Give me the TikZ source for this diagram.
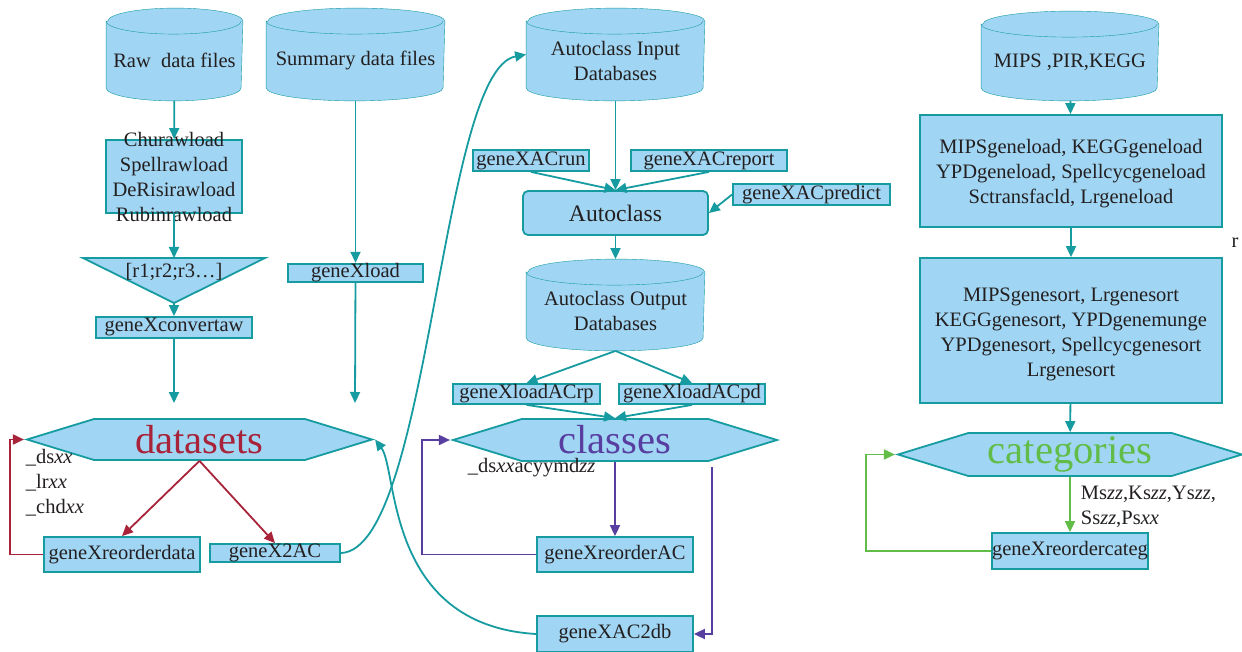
\documentclass[tikz,border=0pt]{standalone}
\usepackage{fontspec}
\setmainfont{Liberation Serif}
\usetikzlibrary{arrows.meta,positioning,backgrounds}
\usetikzlibrary{shapes.geometric,shapes.symbols}

\definecolor{dbfill}{RGB}{160,214,243}
\definecolor{dbline}{RGB}{22,155,160}
\definecolor{dsred}{RGB}{168,35,58}
\definecolor{clspurple}{RGB}{88,62,160}
\definecolor{catgreen}{RGB}{98,188,72}
\definecolor{txt}{RGB}{35,31,32}

% cylinder outline round a named node: #1 node, #2 half width
\newcommand\dbcase[2]{%
	\path[draw=dbline,fill=dbfill] ([yshift=-13pt]#1.north west) -- ([yshift=13pt]#1.south west)
	arc[start angle=180,end angle=360,x radius=#2pt,y radius=13pt] -- ([yshift=-13pt]#1.north east)
	arc[start angle=0,end angle=180,x radius=#2pt,y radius=13pt] -- cycle;
	\draw[dbline] ([yshift=-13pt]#1.north west) arc[start angle=180,end angle=360,x radius=#2pt,y radius=13pt];
}

\begin{document}
\begin{tikzpicture}
	[x=1pt,y=-1pt,line width=1.8pt,text=txt,
	font=\fontsize{20.5}{25}\selectfont,
	db node/.style={shape=rectangle,inner sep=0pt},
	db text/.style={yshift=-6pt,align=center,inner sep=0pt},
	proc node/.style={shape=rectangle,draw=dbline,fill=dbfill,inner sep=0pt},
	set node/.style={shape=signal,signal to=west and east,signal pointer angle=34,draw=dbline,fill=dbfill,inner sep=0pt,font=\fontsize{40.6}{44}\selectfont},
	flow/.style={draw=dbline,-{Triangle[length=11pt,width=10pt]}},
	ds flow/.style={flow,draw=dsred},
	cls flow/.style={flow,draw=clspurple},
	cat flow/.style={flow,draw=catgreen}]
	\useasboundingbox (0,0) rectangle (1242,652);
	
	% left column
	\node [db node,minimum width=135pt,minimum height=91pt,label={[db text]center:Raw\ \ data files}] (rawdb) at (174.5,54.5) {};
	\node [db node,minimum width=177pt,minimum height=91pt,label={[db text]center:Summary data files}] (sumdb) at (355.5,54.5) {};
	\node [proc node,minimum width=136pt,minimum height=73pt,label={[align=center]center:Churawload\\Spellrawload\\DeRisirawload\\Rubinrawload}] (rawload) at (174,176.5) {};
	\draw [draw=dbline,fill=dbfill] (83,258) -- (265,258) -- (174,303) -- cycle;
	\coordinate (tri top) at (174,258);
	\coordinate (tri tip) at (174,303);
	\node [inner sep=0pt] (tri) at (174,272) {[r1;r2;r3…]};
	\node [proc node,minimum width=156pt,minimum height=21pt] (convert) at (174,327.5) {geneXconvertaw};
	\node [proc node,minimum width=135pt,minimum height=18pt] (xload) at (355.5,273) {geneXload};
	\coordinate (convert end) at (174,403);
	\coordinate (xload end) at (355,403);
	
	\node [set node,minimum width=345pt,minimum height=41pt,text=dsred] (datasets) at (199.5,439.5) {datasets};
	\node [align=left,anchor=west,inner sep=0pt] (dslabel) at (25,483) {\_ds\textit{xx}\\\_lr\textit{xx}\\\_chd\textit{xx}};
	\node [proc node,minimum width=156pt,minimum height=35pt] (reorderdata) at (122,554.5) {geneXreorderdata};
	\node [proc node,minimum width=130pt,minimum height=18pt] (x2ac) at (275,553) {geneX2AC};
	
	% middle column
	\node [db node,minimum width=177pt,minimum height=91pt,label={[db text]center:Autoclass Input\\Databases}] (acin) at (615.5,54.5) {};
	\node [proc node,minimum width=116pt,minimum height=21pt] (acrun) at (531,160.5) {geneXACrun};
	\node [proc node,minimum width=156pt,minimum height=21pt] (acreport) at (709,160.5) {geneXACreport};
	\node [proc node,minimum width=157pt,minimum height=21pt] (acpredict) at (811.5,194.5) {geneXACpredict};
	\node [proc node,rounded corners=5pt,minimum width=185pt,minimum height=44pt,font=\fontsize{23.6}{28}\selectfont] (autoclass) at (615.5,213) {Autoclass};
	\node [db node,minimum width=177pt,minimum height=90pt,label={[db text]center:Autoclass Output\\Databases}] (acout) at (615.5,305) {};
	\node [proc node,minimum width=147pt,minimum height=20pt] (loadrp) at (526.5,394) {geneXloadACrp};
	\node [proc node,minimum width=146pt,minimum height=20pt] (loadpd) at (692,394) {geneXloadACpd};
	\node [set node,minimum width=324pt,minimum height=42pt,text=clspurple] (classes) at (615,440) {classes};
	\node [anchor=west,inner sep=0pt] (clslabel) at (467,468) {\_ds\textit{xx}acyymd\textit{zz}};
	\node [proc node,minimum width=156pt,minimum height=35pt] (reorderAC) at (615,554.5) {geneXreorderAC};
	\node [proc node,minimum width=156pt,minimum height=36pt] (ac2db) at (615,634) {geneXAC2db};
	\coordinate (cls out) at (712,467);
	
	% right column
	\node [db node,minimum width=176pt,minimum height=88pt,label={[db text]center:MIPS ,PIR,KEGG}] (mipsdb) at (1070,56) {};
	\node [proc node,minimum width=302pt,minimum height=112pt,label={[align=center,yshift=-3pt]center:MIPSgeneload, KEGGgeneload\\YPDgeneload, Spellcycgeneload\\Sctransfacld, Lrgeneload}] (geneload) at (1071,171) {};
	\node [proc node,minimum width=302pt,minimum height=145pt,label={[align=center,yshift=-4pt]center:MIPSgenesort, Lrgenesort\\KEGGgenesort, YPDgenemunge\\YPDgenesort, Spellcycgenesort\\Lrgenesort}] (genesort) at (1071,330.5) {};
	\node [inner sep=0pt] (stray) at (1235,243) {r};
	\node [set node,minimum width=344pt,minimum height=43pt,text=catgreen] (categories) at (1070,454.5) {categories};
	\node [align=left,anchor=west,inner sep=0pt] (catlabel) at (1080,506.5) {Ms\textit{zz},Ks\textit{zz},Ys\textit{zz},\\Ss\textit{zz},Ps\textit{xx}};
	\node [proc node,minimum width=156pt,minimum height=36pt,label={center:geneXreordercateg}] (reordercateg) at (1070,551) {};
	
	\begin{scope}[on background layer]
		\dbcase{rawdb}{67.5}
		\dbcase{sumdb}{88.5}
		\dbcase{acin}{88.5}
		\dbcase{acout}{88.5}
		\dbcase{mipsdb}{88}
	\end{scope}
	
	\path[every edge/.style={flow}]
	(rawdb) edge (rawload)
	(rawload) edge (tri top)
	(tri tip) edge (convert)
	(convert) edge (convert end)
	(sumdb) edge (xload)
	(xload) edge (xload end)
	(acin) edge (autoclass)
	(acrun.south) edge (autoclass.north)
	(acreport.south) edge (autoclass.north)
	(acpredict.west) edge (autoclass.east)
	(autoclass) edge (acout)
	(acout.south) edge (loadrp.north)
	(acout.south) edge (loadpd.north)
	(loadrp.south) edge (classes.north)
	(loadpd.south) edge (classes.north)
	(mipsdb) edge (geneload)
	(geneload) edge (genesort)
	(genesort) edge (categories)
	;
	\draw[flow] (x2ac.east) .. controls (430,550) and (440,70) .. (acin.west);
	\draw[flow] (ac2db.west) .. controls (385,625) and (398,470) .. (datasets.east);
	
	\draw[ds flow] (datasets.south) -- (reorderdata.north);
	\draw[ds flow] (datasets.south) -- (x2ac.north);
	\draw[ds flow] (reorderdata.west) -- ++(-33,0) |- (datasets.west);
	
	\draw[cls flow] (classes.south) -- (reorderAC.north);
	\draw[cls flow] (reorderAC.west) -- ++(-114,0) |- (classes.west);
	\draw[cls flow] (cls out) |- (ac2db.east);
	
	\draw[cat flow] (categories.south) -- (reordercateg.north);
	\draw[cat flow] (reordercateg.west) -- ++(-125,0) |- (categories.west);
	
\end{tikzpicture}
\end{document}
